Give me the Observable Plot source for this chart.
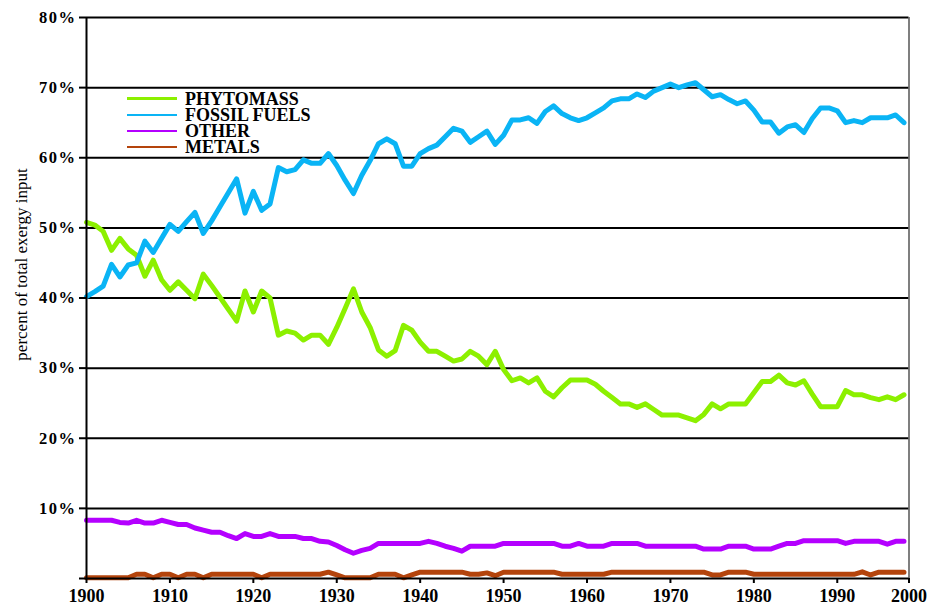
<!DOCTYPE html>
<html>
<head>
<meta charset="utf-8">
<script src="https://cdn.jsdelivr.net/npm/d3@7"></script>
<script src="https://cdn.jsdelivr.net/npm/@observablehq/plot@0.6"></script>
<style>
  body { margin: 0; background: #fff; }
  #wrap { position: relative; width: 929px; height: 607px; }
  #wrap svg { display: block; }
  #legend { position: absolute; left: 127px; top: 90.7px; font-family: "Liberation Serif", "Times New Roman", serif; font-weight: bold; font-size: 18px; color: #000; }
  .row { display: flex; align-items: center; height: 16.1px; line-height: 16.1px; white-space: nowrap; }
  .sw { width: 50px; height: 2.5px; margin-right: 8px; flex: none; }
</style>
</head>
<body>
<div id="wrap"><div id="legend"></div></div>
<script>
// Years (one value per year)
const years = d3.range(1900, 1999);

// Series values, percent of total exergy input
const phytomass = [
  50.8, 50.4, 49.5, 46.8, 48.5, 47.0, 46.1, 43.1, 45.4, 42.6,
  41.1, 42.3, 41.1, 39.9, 43.4, 41.8, 40.1, 38.4, 36.7, 41.0,
  38.0, 41.0, 40.0, 34.7, 35.3, 35.0, 34.0, 34.7, 34.7, 33.4,
  35.8, 38.5, 41.3, 38.0, 35.8, 32.6, 31.7, 32.5, 36.1, 35.4,
  33.7, 32.4, 32.4, 31.7, 31.0, 31.3, 32.4, 31.7, 30.5, 32.4,
  29.8, 28.2, 28.6, 27.9, 28.6, 26.7, 25.9, 27.2, 28.3, 28.3,
  28.3, 27.7, 26.7, 25.8, 24.9, 24.9, 24.4, 24.9, 24.1, 23.3,
  23.3, 23.3, 22.9, 22.5, 23.4, 24.9, 24.2, 24.9, 24.9, 24.9,
  26.5, 28.1, 28.1, 29.0, 27.9, 27.6, 28.2, 26.3, 24.5, 24.5,
  24.5, 26.8, 26.2, 26.2, 25.8, 25.5, 25.9, 25.5, 26.2
];
const fossilFuels = [
  40.2, 40.9, 41.7, 44.8, 43.0, 44.7, 45.0, 48.1, 46.5, 48.5,
  50.5, 49.5, 50.9, 52.2, 49.2, 51.0, 53.0, 55.0, 57.0, 52.1,
  55.2, 52.5, 53.4, 58.6, 58.0, 58.3, 59.7, 59.2, 59.2, 60.6,
  58.9, 56.8, 54.9, 57.5, 59.6, 62.0, 62.7, 62.0, 58.8, 58.8,
  60.6, 61.3, 61.8, 63.0, 64.2, 63.8, 62.2, 63.0, 63.8, 61.9,
  63.2, 65.4, 65.4, 65.7, 64.9, 66.6, 67.4, 66.3, 65.7, 65.3,
  65.7, 66.4, 67.1, 68.1, 68.4, 68.4, 69.1, 68.6, 69.5, 70.0,
  70.5, 70.0, 70.4, 70.7, 69.7, 68.7, 69.0, 68.3, 67.7, 68.1,
  66.8, 65.1, 65.1, 63.5, 64.4, 64.7, 63.6, 65.6, 67.1, 67.1,
  66.7, 65.0, 65.3, 65.0, 65.7, 65.7, 65.7, 66.1, 65.0
];
const other = [
  8.3, 8.3, 8.3, 8.3, 8.0, 7.9, 8.3, 7.9, 7.9, 8.3,
  8.0, 7.7, 7.7, 7.2, 6.9, 6.6, 6.6, 6.1, 5.7, 6.4,
  6.0, 6.0, 6.4, 6.0, 6.0, 6.0, 5.7, 5.7, 5.3, 5.2,
  4.7, 4.1, 3.6, 4.0, 4.3, 5.0, 5.0, 5.0, 5.0, 5.0,
  5.0, 5.3, 5.0, 4.6, 4.3, 3.9, 4.6, 4.6, 4.6, 4.6,
  5.0, 5.0, 5.0, 5.0, 5.0, 5.0, 5.0, 4.6, 4.6, 5.0,
  4.6, 4.6, 4.6, 5.0, 5.0, 5.0, 5.0, 4.6, 4.6, 4.6,
  4.6, 4.6, 4.6, 4.6, 4.2, 4.2, 4.2, 4.6, 4.6, 4.6,
  4.2, 4.2, 4.2, 4.6, 5.0, 5.0, 5.4, 5.4, 5.4, 5.4,
  5.4, 5.0, 5.3, 5.3, 5.3, 5.3, 4.9, 5.3, 5.3
];
const metals = [
  0.1, 0.1, 0.1, 0.1, 0.1, 0.1, 0.6, 0.6, 0.1, 0.6,
  0.6, 0.1, 0.6, 0.6, 0.1, 0.6, 0.6, 0.6, 0.6, 0.6,
  0.6, 0.1, 0.6, 0.6, 0.6, 0.6, 0.6, 0.6, 0.6, 0.9,
  0.5, 0.1, 0.1, 0.1, 0.1, 0.6, 0.6, 0.6, 0.1, 0.5,
  0.9, 0.9, 0.9, 0.9, 0.9, 0.9, 0.6, 0.6, 0.8, 0.4,
  0.9, 0.9, 0.9, 0.9, 0.9, 0.9, 0.9, 0.6, 0.6, 0.6,
  0.6, 0.6, 0.6, 0.9, 0.9, 0.9, 0.9, 0.9, 0.9, 0.9,
  0.9, 0.9, 0.9, 0.9, 0.9, 0.5, 0.5, 0.9, 0.9, 0.9,
  0.6, 0.6, 0.6, 0.6, 0.6, 0.6, 0.6, 0.6, 0.6, 0.6,
  0.6, 0.6, 0.6, 0.95, 0.5, 0.9, 0.9, 0.9, 0.9
];

// Labels and colours
const seriesNames = ["PHYTOMASS", "FOSSIL FUELS", "OTHER", "METALS"];
const seriesColors = ["#8cf000", "#0ab4f5", "#b400ff", "#b4440c"];
const seriesValues = [phytomass, fossilFuels, other, metals];
const yTicks = [0, 10, 20, 30, 40, 50, 60, 70, 80];
const xTicks = [1900, 1910, 1920, 1930, 1940, 1950, 1960, 1970, 1980, 1990, 1998.6];
const xEnd = 1998.6;
const yTitle = "percent of total exergy input";

const rows = seriesNames.flatMap((name, k) =>
  years.map((year, i) => ({series: name, year, value: seriesValues[k][i]})));

const serif = '"Liberation Serif", "Times New Roman", serif';

const chart = Plot.plot({
  width: 929,
  height: 607,
  marginLeft: 86,
  marginRight: 20.5,
  marginTop: 17,
  marginBottom: 29,
  style: {fontFamily: serif, fontSize: "18px", fontWeight: "bold", color: "#000", background: "#fff", overflow: "visible"},
  x: {domain: [1900, xEnd]},
  y: {domain: [0, 80]},
  color: {domain: seriesNames, range: seriesColors},
  marks: [
    Plot.ruleY(yTicks.filter(d => d > 0), {stroke: "#000", strokeWidth: 2}),
    Plot.ruleX([xEnd], {stroke: "#555", strokeWidth: 1.5}),
    Plot.line(rows, {x: "year", y: "value", z: "series", stroke: "series", strokeWidth: 5, strokeLinejoin: "round", strokeLinecap: "round"}),
    Plot.ruleX([1900], {stroke: "#000", strokeWidth: 2}),
    Plot.ruleY([0], {stroke: "#000", strokeWidth: 2}),
    Plot.axisY({ticks: yTicks, tickFormat: d => d === 0 ? "" : d + "%", tickSize: 7, tickPadding: 3, strokeWidth: 2, stroke: "#000", label: null, fontSize: 16.5}),
    Plot.axisX({ticks: xTicks, tickFormat: d => d > 1995 ? "2000" : String(d), tickSize: 5, tickPadding: 6, strokeWidth: 2, stroke: "#000", label: null}),
    Plot.text([yTitle], {text: d => d, frameAnchor: "left", textAnchor: "middle", rotate: -90, dx: -65, dy: -33.5, fontWeight: "normal", fontSize: 17})
  ]
});

d3.select(chart).selectAll('[aria-label="y-axis tick label"] text').attr("letter-spacing", "1.5px");

const wrap = document.getElementById("wrap");
wrap.insertBefore(chart, wrap.firstChild);

const legend = document.getElementById("legend");
seriesNames.forEach((name, k) => {
  const row = document.createElement("div");
  row.className = "row";
  const sw = document.createElement("span");
  sw.className = "sw";
  sw.style.background = seriesColors[k];
  const label = document.createElement("span");
  label.textContent = name;
  row.appendChild(sw);
  row.appendChild(label);
  legend.appendChild(row);
});
</script>
</body>
</html>
